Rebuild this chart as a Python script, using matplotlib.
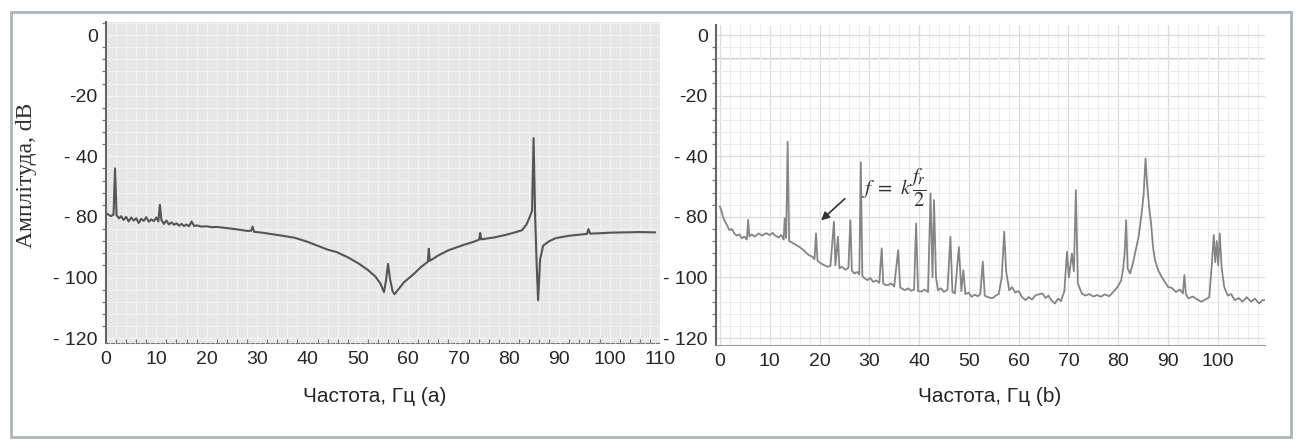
import numpy as np
import matplotlib
matplotlib.use('Agg')
import matplotlib.pyplot as plt
from matplotlib.ticker import FixedLocator, MultipleLocator
from matplotlib.patches import Rectangle

# y tick values as printed on the original axes (unevenly labelled, evenly spaced)
Y_TICKS = [-120, -100, -80, -40, -20, 0]
Y_TICK_LABELS = ['- 120', '- 100', '- 80', '- 40', '-20', '0']
X_TICKS_A = [0, 10, 20, 30, 40, 50, 60, 70, 80, 90, 100, 110]
X_TICKS_B = [0, 10, 20, 30, 40, 50, 60, 70, 80, 90, 100]

# panel (a)
freq_a = [0.0, 0.5, 1.0, 1.5, 1.8, 2.1, 2.6, 3.0, 3.5, 4.0, 4.5, 5.0, 5.5, 6.0, 6.5, 7.0,
          7.5, 8.0, 8.5, 9.0, 9.5, 10.0, 10.4, 10.7, 11.0, 11.5, 12.0, 12.5, 13.0, 13.5,
          14.0, 14.5, 15.0, 15.5, 16.0, 16.5, 17.0, 17.5, 18.0, 19.0, 20.0, 21.0, 22.0,
          24.0, 26.0, 28.0, 28.8, 29.1, 29.4, 31.0, 33.0, 35.0, 37.5, 40.0, 42.0, 44.0,
          45.8, 48.0, 50.0, 52.0, 53.5, 54.5, 55.2, 55.6, 56.0, 56.4, 56.9, 57.3, 58.0,
          59.2, 61.0, 62.5, 63.9, 64.1, 64.3, 66.0, 68.0, 70.9, 73.0, 74.1, 74.3, 74.5,
          77.0, 79.2, 81.0, 82.6, 83.5, 84.2, 84.6, 84.9, 85.2, 85.5, 85.8, 86.2, 86.8,
          88.0, 89.3, 92.0, 95.5, 95.8, 96.1, 98.0, 100.0, 103.0, 106.0, 109.0]
db_a = [-77.5, -78.5, -79.5, -78.5, -48.0, -79.0, -80.5, -79.5, -81.0, -80.0, -81.5, -80.2,
        -81.2, -80.4, -82.0, -80.6, -81.3, -80.1, -81.6, -80.8, -81.4, -80.2, -81.5, -72.0,
        -81.0, -82.3, -81.2, -82.5, -81.8, -82.6, -82.1, -82.9, -82.3, -83.0, -82.5, -83.1,
        -81.5, -83.0, -82.8, -83.2, -83.1, -83.4, -83.3, -83.7, -84.1, -84.6, -84.6, -83.2,
        -84.9, -85.2, -85.7, -86.2, -86.9, -88.2, -89.5, -90.8, -91.6, -93.3, -95.2, -97.5,
        -99.7, -102.0, -104.8, -101.0, -95.5, -100.5, -104.5, -105.5, -104.0, -101.5, -99.0,
        -96.6, -94.8, -90.5, -94.5, -92.7, -91.0, -89.3, -88.2, -87.5, -85.3, -87.4, -86.8,
        -86.0, -85.2, -84.4, -82.5, -79.5, -76.0, -34.0, -78.0, -95.0, -107.5, -94.0, -89.5,
        -88.0, -87.0, -86.2, -85.6, -84.0, -85.5, -85.4, -85.2, -85.1, -85.0, -85.1]

# panel (b)
freq_b = [0.0, 0.3, 0.6, 1.0, 1.5, 1.9, 2.4, 2.9, 3.4, 3.9, 4.4, 4.9, 5.4, 5.66, 5.9, 6.4,
          7.0, 7.75, 8.5, 9.3, 10.0, 10.6, 11.1, 11.8, 12.3, 12.8, 13.0, 13.3, 13.6, 13.9,
          14.5, 15.3, 16.0, 16.8, 17.8, 18.6, 19.0, 19.3, 19.6, 20.3, 21.0, 21.6, 22.2,
          22.9, 23.2, 23.7, 24.0, 24.5, 25.2, 25.8, 26.2, 26.5, 27.0, 27.6, 28.0, 28.3,
          28.6, 29.0, 29.6, 30.2, 30.8, 31.4, 32.0, 32.5, 32.8, 33.3, 33.8, 34.4, 35.0,
          35.8, 36.2, 36.7, 37.1, 37.8, 38.4, 39.0, 39.4, 39.8, 40.5, 41.1, 41.8, 42.3,
          42.7, 43.0, 43.4, 43.8, 44.4, 45.0, 45.7, 46.3, 46.7, 47.2, 48.0, 48.5, 48.9,
          49.3, 50.0, 50.5, 51.2, 51.8, 52.3, 52.8, 53.2, 53.8, 54.7, 55.4, 56.0, 56.6,
          57.1, 57.5, 58.1, 58.7, 59.3, 60.0, 60.7, 61.4, 62.0, 62.7, 63.3, 64.0, 64.8,
          65.4, 66.0, 66.6, 67.3, 67.9, 68.5, 69.2, 69.7, 70.1, 70.7, 71.1, 71.5, 71.9,
          72.7, 73.4, 74.2, 75.0, 75.8, 76.5, 77.3, 78.2, 79.0, 79.9, 80.6, 81.0, 81.3,
          81.6, 81.9, 82.4, 83.0, 83.6, 84.1, 84.7, 85.1, 85.5, 85.8, 86.2, 86.6, 87.0,
          87.4, 88.0, 88.8, 90.0, 90.8, 91.6, 92.4, 93.0, 93.3, 93.6, 94.1, 95.0, 95.8,
          96.7, 97.5, 98.3, 98.8, 99.2, 99.5, 99.8, 100.1, 100.4, 100.8, 101.3, 102.0,
          102.7, 103.4, 104.2, 105.0, 105.8, 106.7, 107.5, 108.3, 109.0, 109.5]
db_b = [-73.3, -76.0, -80.0, -81.5, -83.0, -84.4, -84.0, -85.5, -86.2, -85.8, -87.1, -86.5,
        -87.5, -81.0, -86.5, -85.8, -86.5, -85.5, -86.2, -85.4, -86.0, -85.3, -86.2, -86.8,
        -86.0, -87.5, -80.5, -87.0, -35.2, -88.0, -88.5, -89.3, -90.0, -91.0, -92.6, -93.2,
        -94.0, -85.5, -94.5, -95.4, -96.0, -96.5, -96.2, -81.6, -96.0, -86.6, -97.0, -96.5,
        -97.5, -96.8, -81.1, -97.8, -98.7, -98.2, -99.0, -44.0, -99.5, -100.2, -100.9,
        -100.2, -101.5, -101.0, -101.8, -90.4, -102.0, -102.5, -102.5, -102.0, -103.0,
        -91.0, -103.3, -103.8, -104.2, -103.6, -104.4, -104.0, -82.2, -104.5, -104.7,
        -104.0, -104.8, -64.5, -100.0, -68.9, -100.0, -104.2, -103.6, -104.8, -104.0,
        -86.6, -104.8, -105.3, -90.0, -104.5, -97.6, -105.5, -105.0, -106.4, -105.7,
        -106.2, -105.5, -94.8, -106.0, -106.5, -106.9, -106.0, -105.5, -100.0, -84.9,
        -98.0, -104.2, -103.2, -105.0, -104.5, -106.5, -107.5, -106.5, -107.3, -106.0,
        -105.6, -105.3, -106.8, -106.0, -107.6, -108.6, -107.0, -107.8, -104.5, -91.5,
        -100.0, -92.1, -98.0, -62.4, -102.0, -105.3, -106.0, -105.5, -106.3, -105.8,
        -106.4, -105.6, -106.2, -104.8, -103.1, -101.0, -97.0, -92.0, -81.1, -97.0, -98.7,
        -95.0, -90.5, -86.6, -78.0, -66.0, -41.4, -58.0, -72.7, -82.0, -90.0, -94.3, -97.5,
        -100.0, -103.1, -103.5, -104.8, -104.0, -105.3, -99.2, -105.5, -106.9, -106.3,
        -107.2, -108.0, -107.3, -106.5, -96.0, -86.0, -95.0, -88.0, -96.0, -85.5, -97.0,
        -103.1, -106.0, -105.5, -107.5, -106.8, -108.0, -106.5, -108.0, -107.0, -108.6,
        -107.5, -107.5]

POS = [0, 1, 2, 3, 4, 5]


def fwd(v):
    v = np.asarray(v, dtype=float)
    p = np.interp(v, Y_TICKS, POS)
    p = np.where(v > 0, 5 + v / 20, p)
    p = np.where(v < -120, (v + 120) / 20, p)
    return p


def inv(p):
    p = np.asarray(p, dtype=float)
    v = np.interp(p, POS, Y_TICKS)
    v = np.where(p > 5, (p - 5) * 20, v)
    v = np.where(p < 0, -120 + p * 20, v)
    return v


plt.rcParams['font.family'] = ['Liberation Sans', 'DejaVu Sans']

fig = plt.figure(figsize=(13.02, 4.41), dpi=100)
fig.add_artist(Rectangle((0.0085, 0.0091), 0.983, 0.9637, transform=fig.transFigure,
                         fill=False, edgecolor='#aab5be', lw=2))

ax1 = fig.add_axes([0.0814, 0.2222, 0.4255, 0.7279])
ax2 = fig.add_axes([0.5499, 0.2177, 0.4217, 0.7256])

minor_y = inv(np.arange(0, 5.25, 0.2))

for ax in (ax1, ax2):
    ax.set_yscale('function', functions=(fwd, inv))
    ax.set_yticks(Y_TICKS)
    ax.set_yticklabels(Y_TICK_LABELS)
    ax.yaxis.set_minor_locator(FixedLocator(minor_y))
    ax.xaxis.set_minor_locator(MultipleLocator(2))
    ax.spines['top'].set_visible(False)
    ax.spines['right'].set_visible(False)
    ax.spines['left'].set_color('#666666')
    ax.spines['left'].set_linewidth(1.5)
    ax.tick_params(axis='both', which='major', labelsize=14, colors='#262626', length=0, pad=6)
    ax.tick_params(axis='y', which='minor', length=3, width=0.9, color='#777777', direction='out')
    ax.set_axisbelow(True)

# (a)
ax1.set_facecolor('#e7e7e7')
ax1.grid(which='both', color='#f3f3f3', lw=0.7)
ax1.plot(freq_a, db_a, color='#555555', lw=1.5)
ax1.set_xlim(0, 110)
ax1.set_ylim(-121.6, 4.3)
ax1.set_xticks(X_TICKS_A)
ax1.spines['bottom'].set_color('#7a7a7a')
ax1.spines['bottom'].set_linestyle((0, (3, 1.5)))
ax1.tick_params(axis='x', which='minor', length=3, width=0.8, color='#777777', direction='in')
ax1.set_xlabel('Частота, Гц (а)', fontsize=15, color='#262626', va='center')
ax1.xaxis.set_label_coords(0.485, -0.168)
fig.text(27 / 1302, 1 - 175 / 441, 'Амплітуда, dB', rotation=90, ha='center', va='center',
         family=['Liberation Serif', 'DejaVu Serif'], fontsize=17, color='#2e2e2e')

# (b)
ax2.set_facecolor('white')
ax2.grid(which='minor', color='#ececec', lw=0.7)
ax2.grid(which='major', color='#dcdcdc', lw=0.9)
ax2.axhline(-7.5, color='#d2d2d2', lw=1.0, zorder=0)
ax2.plot(freq_b, db_b, color='#858585', lw=1.3)
ax2.set_xlim(-0.8, 109.5)
ax2.set_ylim(-122.3, 3.3)
ax2.set_xticks(X_TICKS_B)
ax2.spines['bottom'].set_color('#a0a0a0')
ax2.tick_params(axis='x', which='minor', length=0)
ax2.set_xlabel('Частота, Гц (b)', fontsize=15, color='#262626', va='center')
ax2.xaxis.set_label_coords(0.499, -0.1625)

ax2.annotate('', xy=(19.9, -81.8), xytext=(25.5, -66.8),
             arrowprops=dict(arrowstyle='-|>', color='#333333', lw=1.2, mutation_scale=12))
ax2.text(28.4, -60.5, r'$f\ =\ k\,\dfrac{f_r}{2}$', fontsize=15, color='#333333',
         ha='left', va='center', math_fontfamily='stix')

fig.savefig('out.png', dpi=100)
